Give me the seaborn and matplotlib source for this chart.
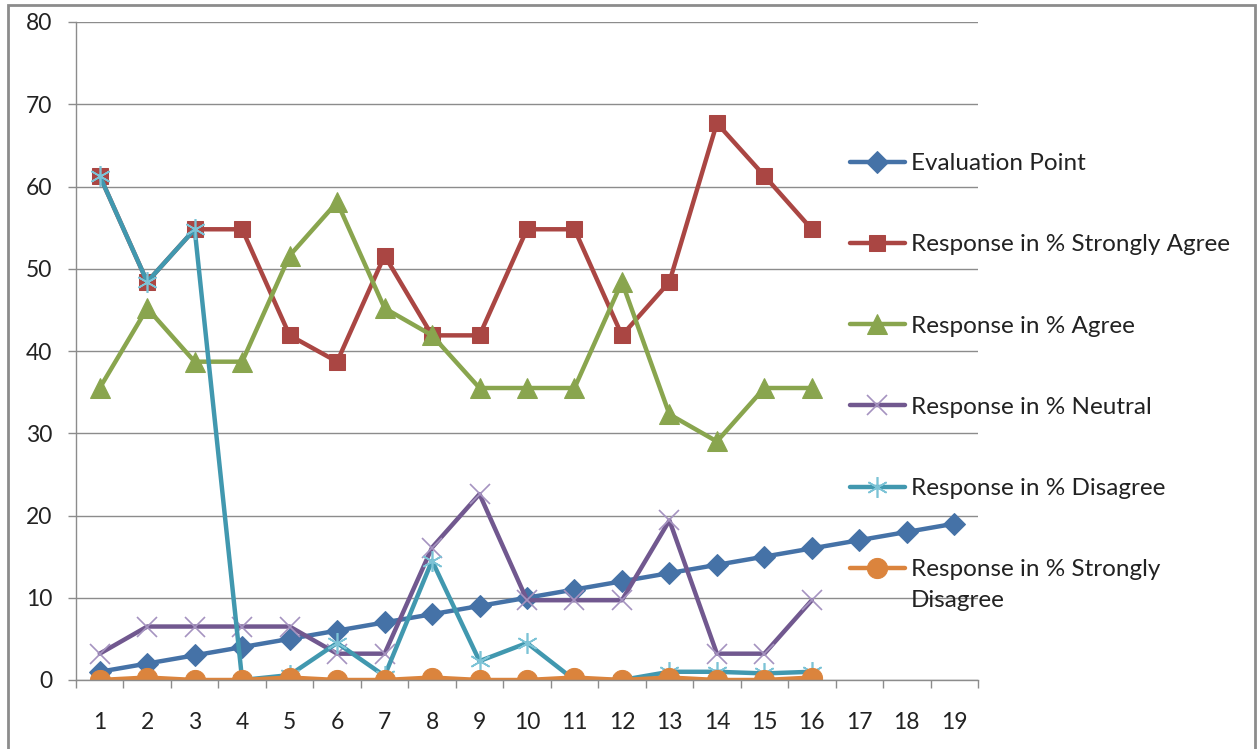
import matplotlib
matplotlib.use("Agg")
import matplotlib.pyplot as plt
from matplotlib.patches import Rectangle
from matplotlib.ticker import FixedLocator
import seaborn as sns
import pandas as pd

# ---- data ----
categories = list(range(1, 20))
evaluation_point = list(range(1, 20))
resp_points = list(range(1, 17))
strongly_agree = [61.3, 48.4, 54.8, 54.8, 41.9, 38.7, 51.6, 41.9, 41.9, 54.8, 54.8, 41.9, 48.4, 67.7, 61.3, 54.8]
agree = [35.5, 45.2, 38.7, 38.7, 51.6, 58.1, 45.2, 41.9, 35.5, 35.5, 35.5, 48.4, 32.3, 29.0, 35.5, 35.5]
neutral = [3.2, 6.5, 6.5, 6.5, 6.5, 3.2, 3.2, 16.1, 22.6, 9.7, 9.7, 9.7, 19.4, 3.2, 3.2, 9.7]
disagree = [61.3, 48.4, 54.8, 0.0, 0.6, 4.5, 0.5, 14.5, 2.3, 4.5, 0.0, 0.0, 1.0, 1.0, 0.8, 1.0]
strongly_disagree = [0.0, 0.3, 0.0, 0.0, 0.3, 0.0, 0.0, 0.3, 0.0, 0.0, 0.3, 0.0, 0.3, 0.0, 0.0, 0.3]
y_ticks = [0, 10, 20, 30, 40, 50, 60, 70, 80]

labels = ["Evaluation Point", "Response in % Strongly Agree", "Response in % Agree",
          "Response in % Neutral", "Response in % Disagree",
          "Response in % Strongly"]
last_label_cont = "Disagree"

sns.set_theme(style="white")
plt.rcParams["font.family"] = ["Lato", "DejaVu Sans"]

fig = plt.figure(figsize=(12.57, 7.49), dpi=100)
ax = fig.add_axes([76 / 1257, 69 / 749, (978 - 76) / 1257, (680 - 22) / 749])

series = [
    (categories, evaluation_point, dict(color="#4572A7", marker="D", markersize=11.5,
                                         markeredgecolor="#4572A7")),
    (resp_points, strongly_agree, dict(color="#AA4643", marker="s", markersize=12,
                                       markeredgecolor="#AA4643")),
    (resp_points, agree, dict(color="#89A54E", marker="^", markersize=14,
                              markeredgecolor="#89A54E")),
    (resp_points, neutral, dict(color="#71588F", marker="x", markersize=15,
                                markeredgecolor="#A593C0", markeredgewidth=1.2)),
    (resp_points, disagree, dict(color="#4198AF", marker=(6, 2, 0), markersize=15,
                                 markeredgecolor="#7CC3D6", markeredgewidth=1.2)),
    (resp_points, strongly_disagree, dict(color="#DB843D", marker="o", markersize=14.5,
                                          markeredgecolor="#DB843D")),
]

for (xs, ys, kw), lab in zip(series, labels):
    df = pd.DataFrame({"x": xs, "y": ys})
    sns.lineplot(data=df, x="x", y="y", ax=ax, linewidth=3.2, label=lab, **kw)

ax.set_xlim(0.5, 19.5)
ax.set_ylim(0, 80)
ax.set_xlabel("")
ax.set_ylabel("")
ax.xaxis.set_major_locator(FixedLocator(categories))
ax.xaxis.set_minor_locator(FixedLocator([c + 0.5 for c in [0] + categories]))
ax.set_yticks(y_ticks)
ax.tick_params(axis="x", which="major", length=0, pad=23, labelsize=16.5, labelcolor="#222222")
ax.tick_params(axis="x", which="minor", length=6, width=1, color="#8c8c8c", direction="out", bottom=True)
ax.tick_params(axis="y", which="major", length=6, width=1, color="#8c8c8c", direction="out",
               left=True, pad=11, labelsize=16.5, labelcolor="#222222")
ax.yaxis.grid(True, color="#8c8c8c", linewidth=1)
ax.set_axisbelow(True)
for s in ["top", "right"]:
    ax.spines[s].set_visible(False)
for s in ["left", "bottom"]:
    ax.spines[s].set_color("#8c8c8c")
    ax.spines[s].set_linewidth(1)

fs = 17.5
leg = ax.legend(loc="upper left", bbox_to_anchor=(850 / 1257, 1 - 153 / 749),
                bbox_transform=fig.transFigure, frameon=False, fontsize=fs,
                handlelength=2.26, handletextpad=0.25, labelspacing=2.48,
                borderpad=0, borderaxespad=0)
for t in leg.get_texts():
    t.set_color("#222222")

# continuation line of the wrapped last legend label
fig.canvas.draw()
last = leg.get_texts()[-1]
bb = last.get_window_extent()
fig.text(bb.x0 / 1257, (bb.y0 - 0.95 * fs * 100 / 72 * 1.33) / 749, last_label_cont,
         fontsize=fs, color="#222222", ha="left", va="bottom")

fig.patches.append(Rectangle((8 / 1257, -10 / 749), (1255 - 8) / 1257, (744 + 10) / 749,
                             transform=fig.transFigure, fill=False,
                             edgecolor="#8c8c8c", linewidth=2, zorder=-1))

fig.savefig("out.png", dpi=100)
